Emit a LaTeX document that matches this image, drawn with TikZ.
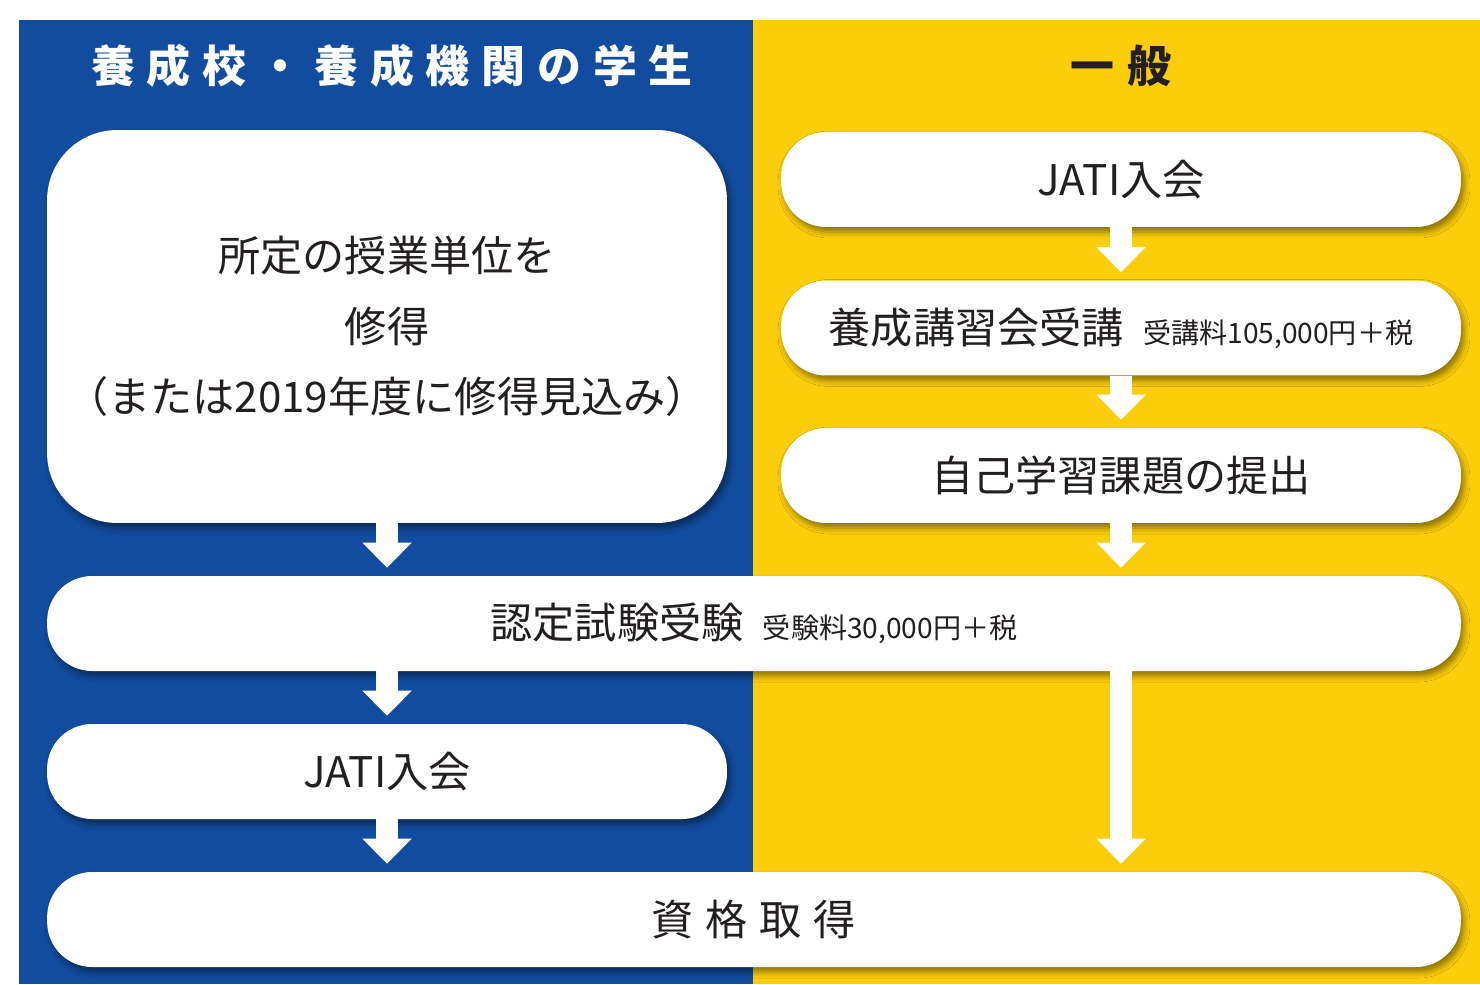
\documentclass[tikz,border=0pt]{standalone}
\usepackage{fontspec}
\setmainfont{Noto Sans CJK JP}
\newfontfamily\headfont[LetterSpace=27]{Noto Sans CJK JP}
\usepackage{xcolor}
\usepackage{tikz}
\usetikzlibrary{arrows.meta,positioning,shadows.blur}
\definecolor{jatiblue}{RGB}{17,76,158}
\definecolor{jatiyellow}{RGB}{252,205,10}
\definecolor{ink}{RGB}{35,31,32}
\newcommand{\feetext}[1]{\hspace{11pt}{\fontsize{16}{20}\selectfont #1}}

\begin{document}
\begin{tikzpicture}[x=0.02cm, y=-0.02cm,
    box/.style={fill=white, rounded corners=0.9cm, minimum width=13.6cm,
      minimum height=1.9cm, inner sep=0pt, text=ink, align=center,
      font=\fontsize{24}{40}\selectfont,
      blur shadow={shadow xshift=0.06cm, shadow yshift=-0.1cm,
        shadow blur radius=0.12cm, shadow opacity=45}},
    wide/.style={box, minimum width=28.28cm},
    head/.style={font=\headfont\bfseries\fontsize{25}{28}\selectfont},
    flow/.style={draw=white, line width=0.44cm,
      -{Triangle[width=0.96cm,length=0.5cm]}, shorten >=0.16cm}]
  \useasboundingbox (0,0) rectangle (1480,984);

  % Panels
  \fill[jatiblue] (19,20) rectangle (753,984);
  \fill[jatiyellow] (753,20) rectangle (1480,984);

  % Headings
  \node[head, text=white] (studenthead) at (392,66) {養成校・養成機関の学生};
  \node[head, text=ink] (generalhead) at (1121,66) {一\hspace{7.5pt}般};

  % Nodes
  \node[box, minimum height=7.86cm, rounded corners=1.4cm] (study) at (387,326.5)
       {所定の授業単位を\\修得\\（または2019年度に修得見込み）};
  \node[box] (rjoin) at (1121,179.5) {JATI入会};
  \node[box] (course) at (1121,328) {養成講習会受講\feetext{受講料105,000円＋税}};
  \node[box] (selfstudy) at (1121,475.5) {自己学習課題の提出};
  \node[wide] (exam) at (754,623.5) {認定試験受験\feetext{受験料30,000円＋税}};
  \node[box] (ljoin) at (387,771.5) {JATI入会};
  \node[wide, font=\fontsize{24}{40}\selectfont\addfontfeature{LetterSpace=28}] (qualify) at (754,919.5)
       {資格取得};

  % Arrows
  \draw[flow] (study.south) -- (exam.north -| study.south);
  \draw[flow] (rjoin.south) -- (course.north);
  \draw[flow] (course.south) -- (selfstudy.north);
  \draw[flow] (selfstudy.south) -- (exam.north -| selfstudy.south);
  \draw[flow] (exam.south -| ljoin.north) -- (ljoin.north);
  \draw[flow] (ljoin.south) -- (qualify.north -| ljoin.south);
  \draw[flow] (exam.south -| selfstudy.south) -- (qualify.north -| selfstudy.south);
\end{tikzpicture}
\end{document}
